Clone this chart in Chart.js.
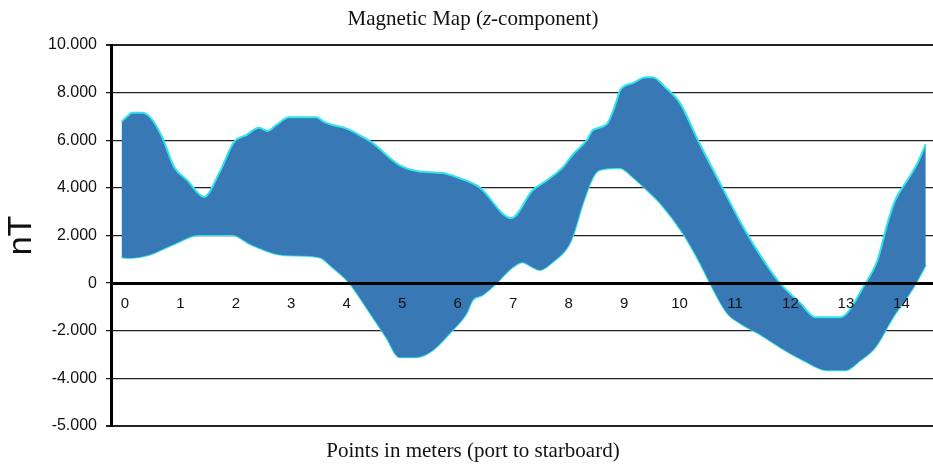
<!DOCTYPE html>
<html>
<head>
<meta charset="utf-8">
<script src="https://cdn.jsdelivr.net/npm/chart.js@4"></script>
<style>
  body { margin: 0; background: #fff; }
  #wrap { position: relative; width: 933px; height: 464px; }
  .lbl {
    position: absolute; left: 473px; transform: translateX(-50%);
    white-space: nowrap; font-family: "Liberation Serif", "Times New Roman", serif;
    font-size: 21px; line-height: 24px; color: #111;
  }
</style>
</head>
<body>
<div id="wrap">
  <canvas id="magChart" width="933" height="464"></canvas>
  <div class="lbl" style="top:6px">Magnetic Map (<i>z</i>-component)</div>
  <div class="lbl" style="top:438px">Points in meters (port to starboard)</div>
</div>
<script>
// upper edge of the band (x in meters, value in nT)
const upperX = [-0.06, 0.04, 0.13, 0.31, 0.47, 0.67, 0.89, 1.12, 1.43, 1.70, 1.97, 2.19, 2.42, 2.57, 2.73, 2.96,
  3.45, 3.59, 3.74, 3.96, 4.23, 4.44, 4.95, 5.26, 5.73, 5.98, 6.39, 6.97, 7.35, 7.57, 7.90, 8.07, 8.33, 8.44,
  8.69, 8.87, 8.93, 9.16, 9.39, 9.52, 9.74, 10.01, 10.33, 10.73, 11.15, 11.51, 11.81, 12.18, 12.45, 12.90,
  13.02, 13.31, 13.57, 13.75, 13.89, 14.11, 14.29, 14.44];
const upperY = [6780, 7000, 7150, 7150, 6930, 6140, 4870, 4330, 3620, 4620, 5930, 6220, 6520, 6390, 6640, 6970,
  6970, 6770, 6640, 6520, 6220, 5930, 4960, 4710, 4620, 4450, 4030, 2730, 3900, 4250, 4870, 5380, 6010, 6430,
  6680, 7690, 8110, 8400, 8650, 8650, 8230, 7560, 6010, 4200, 2350, 970, 0, -840, -1430, -1430,
  -1260, -170, 970, 2520, 3490, 4330, 5040, 5840];

// lower edge of the band
const lowerX = [-0.06, 0.07, 0.43, 0.85, 1.34, 1.93, 2.29, 2.84, 3.50, 3.74, 4.05, 4.35, 4.71, 4.95, 5.26, 5.55,
  5.91, 6.16, 6.27, 6.45, 6.70, 6.99, 7.17, 7.35, 7.48, 7.71, 7.97, 8.07, 8.26, 8.44, 8.56, 8.92, 9.16, 9.47,
  9.65, 10.06, 10.37, 10.55, 10.86, 11.09, 11.45, 11.81, 12.23, 12.66, 12.99, 13.26, 13.53, 13.85, 14.22, 14.44];
const lowerY = [1090, 1050, 1180, 1600, 2020, 2020, 1600, 1180, 1090, 670, 0, -1010, -2270, -3110, -3110, -2820,
  -1970, -1260, -710, -500, 0, 670, 880, 670, 550, 880, 1470, 1930, 3360, 4450, 4750, 4830, 4450, 3780,
  3360, 2100, 840, 0, -1260, -1680, -2150, -2690, -3240, -3660, -3660, -3240, -2690, -1430, -170, 760];

const xTickValues = [0, 1, 2, 3, 4, 5, 6, 7, 8, 9, 10, 11, 12, 13, 14];
const yTickValues = [10000, 8000, 6000, 4000, 2000, 0, -2000, -4000, -6000];
const yTickLabels = ["10.000", "8.000", "6.000", "4.000", "2.000", "0", "-2.000", "-4.000", "-5.000"];

const toPoints = (xs, ys) => xs.map((x, i) => ({ x, y: ys[i] }));

const sans = "'Liberation Sans', Arial, sans-serif";

const ctx = document.getElementById("magChart").getContext("2d");
new Chart(ctx, {
  type: "line",
  data: {
    datasets: [
      {
        label: "upper",
        data: toPoints(upperX, upperY),
        fill: "+1",
        backgroundColor: "#3878b4",
        borderColor: "#2fe4ec",
        borderWidth: 2,
        pointRadius: 0,
        cubicInterpolationMode: "monotone"
      },
      {
        label: "lower",
        data: toPoints(lowerX, lowerY),
        fill: false,
        borderColor: "#2fe4ec",
        borderWidth: 2,
        pointRadius: 0,
        cubicInterpolationMode: "monotone"
      }
    ]
  },
  options: {
    responsive: false,
    animation: false,
    layout: { padding: { top: 45, bottom: 38, left: 0, right: 0 } },
    plugins: { legend: { display: false }, tooltip: { enabled: false } },
    scales: {
      x: {
        type: "linear",
        position: { y: 0 },
        min: -0.25,
        max: 14.57,
        afterBuildTicks: s => { s.ticks = xTickValues.map(v => ({ value: v })); },
        grid: { display: false, drawTicks: false },
        border: { display: true, color: "#000", width: 3, z: 1 },
        ticks: { color: "#111", font: { family: sans, size: 15 }, padding: 12, z: 1, maxRotation: 0 }
      },
      y: {
        min: -6000,
        max: 10000,
        afterBuildTicks: s => { s.ticks = yTickValues.map(v => ({ value: v })); },
        afterFit: s => { s.width = 111; },
        grid: {
          color: "#222",
          lineWidth: c => (c.tick && (c.tick.value === 10000 || c.tick.value === -6000)) ? 2 : 1.3,
          tickLength: 5
        },
        border: { display: true, color: "#000", width: 3 },
        ticks: {
          color: "#111",
          font: { family: sans, size: 16 },
          padding: 9,
          callback: v => yTickLabels[yTickValues.indexOf(v)]
        },
        title: {
          display: true,
          text: "nT",
          color: "#111",
          font: { family: sans, size: 34 },
          padding: { top: 1, bottom: 0 }
        }
      }
    }
  }
});
</script>
</body>
</html>
